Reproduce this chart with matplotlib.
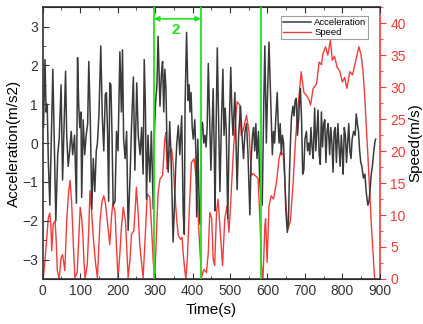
import matplotlib
matplotlib.use('Agg')
import matplotlib.pyplot as plt
from matplotlib.ticker import MultipleLocator

plt.rcParams['font.family'] = ['Liberation Sans', 'DejaVu Sans']

# acceleration (time s, m/s2)
acc_t = [2, 6, 9, 12, 15, 19, 23, 27, 31, 35, 40, 44, 49, 53, 57, 61, 64, 68, 72, 76,
         80, 85, 90, 93, 96, 99, 102, 104, 108, 112, 116, 120, 123, 127, 131, 135, 139, 143, 146, 150,
         155, 159, 163, 167, 170, 173, 176, 179, 182, 185, 188, 193, 197, 201, 206, 210, 213, 216, 220, 224,
         228, 233, 237, 242, 246, 251, 255, 260, 264, 268, 271, 274, 277, 281, 286, 290, 295, 297,
         301, 305, 308, 313, 317, 320, 323, 326, 329, 332, 335, 339, 342, 345, 348, 351, 355, 358, 362, 366,
         369, 371, 373, 375, 378, 380, 384, 388, 391, 393, 396, 399, 402, 406, 409, 411, 414, 418, 421,
         424, 427, 430, 433, 436, 439, 442, 445, 449, 452, 455, 458, 460, 463, 466, 469, 473, 477, 481, 484,
         487, 490, 494, 498, 502, 505, 508, 513, 516, 519, 523, 528, 532, 536, 540, 544, 548, 553, 556, 560,
         563, 566, 569, 572, 576, 579, 582,
         586, 590, 593, 597, 600, 604, 609, 613, 616, 619, 622, 626, 629, 631, 634, 637, 640, 643, 646, 649,
         653, 656, 659, 662, 664, 668, 671, 674, 677, 680, 683, 686, 688, 691, 694, 697, 700, 704, 707, 710,
         713, 716, 719, 722, 726, 729, 732, 735, 738, 741, 744, 747, 750, 753, 756, 759, 762, 766, 769, 772,
         775, 778, 781, 784, 788, 791, 794, 797, 800, 802, 805, 808, 811, 814, 817, 820, 823, 826, 830, 834,
         837, 840, 843, 846, 849, 852, 856, 860, 864, 868, 871, 874, 877, 880, 884, 887, 889]
acc_v = [0.4, 2.15, 0.8, 1.0, -0.5, -1.6, 0.2, 1.9, 0.0, -2.0, -0.3, 0.1, 1.5, -0.95, 0.4, 1.85, 0.2, -0.6, -0.2, 0.3,
         -0.3, 0.2, -1.55, 2.2, 1.0, 0.4, 0.8, -1.4, 0.6, -0.3, 0.2, 0.5, 2.1, 0.6, -1.7, -0.4, -1.25, -0.2, 0.0, 0.7,
         2.5, 0.7, -0.2, 1.25, 1.3, 0.3, -1.5, 1.55, 1.5, 0.2, -1.6, -1.5, 0.3, -0.2, 2.35, 0.8, 2.4, 0.1, -0.4, 0.3,
         -2.25, -0.9, 0.4, 1.7, -0.7, 1.55, 0.2, -0.3, 0.4, -0.8, 2.15, 1.0, -1.45, 0.2, -1.0, 0.3, -1.7, 0.0,
         1.0, 1.5, 2.75, 0.95, 1.8, 2.1, 0.8, 1.9, 1.4, -0.2, -0.75, 0.55, -0.2, -1.25, -2.55, -1.8, -0.6, 0.0, 0.45, -0.3,
         0.3, 0.7, -0.5, -1.8, -2.35, 0.95, 2.85, 1.1, 1.5, 0.8, 1.3, 0.4, 0.1, 0.6, -0.3, -1.9, 0.1, -1.75, -2.1,
         0.55, 0.5, 0.0, 0.2, -0.1, 0.4, 2.05, 0.9, -0.7, 0.4, 1.4, -0.3, -1.75, 0.5, 2.45, 0.8, -1.25, 0.5, 1.9, 0.2,
         0.9, 0.3, -1.95, 0.4, 1.95, 0.8, 0.2, 1.3, 0.1, -1.2, 0.2, 0.95, 0.2, -0.4, 0.3, 0.5, -0.3, -1.85, -0.5, 0.2,
         0.4, -0.2, 0.5, -0.4, 0.3, -0.9, -1.3,
         -1.6, 1.0, 2.5, 0.0, 1.2, 2.6, 0.95, -0.3, 0.3, 0.0, 0.6, 1.3, 0.4, 0.0, 0.5, -0.3, 0.2, 0.0, -0.8, -1.75,
         -2.3, -2.0, -0.7, 0.2, 0.65, 0.95, 0.7, 1.1, 1.15, 0.2, 0.6, 1.2, 1.4, 0.6, -0.8, -0.7, 0.1, 0.3, -0.2, 0.0,
         -0.3, 0.4, -0.1, -0.4, 0.9, -0.2, 0.3, 0.85, -0.3, -0.55, 0.8, -0.1, 0.5, 0.6, -0.5, 0.3, 0.5, -0.3, 0.4, 0.0,
         -0.75, 0.3, 0.4, -0.5, 0.5, -0.1, -0.6, 0.2, -0.3, -0.8, 0.4, 0.2, -0.5, 0.0, 0.5, -0.2, -0.4, 0.1, 0.3, 0.2,
         0.75, 0.5, 0.3, -0.2, -0.5, -0.6, -0.9, -0.8, -1.3, -1.6, -1.5, -1.2, -0.8, -0.6, -0.2, 0.05, 0.1]

# speed (time s, m/s)
spd_t = [1, 6, 11, 15, 19, 22, 24, 28, 33, 36, 39, 44, 49, 53, 56, 59, 64, 69, 73, 77,
         82, 86, 92, 96, 100, 104, 107, 110, 113, 119, 123, 126, 130, 135, 141, 146, 153, 158, 163, 167,
         172, 176, 179, 184, 187, 193, 197, 201, 206, 210, 215, 221, 225, 228, 233, 237, 243, 247, 250, 255,
         259, 264, 268, 274, 279, 286, 291, 295, 299, 303, 308, 313, 320, 326, 329, 332, 335, 338, 344, 348,
         352, 355, 358, 362, 368, 372, 375, 378, 382, 386, 391, 397, 404, 410, 414, 418, 424, 430, 437, 442,
         446, 451, 455, 459, 464, 468, 471, 475, 480, 486, 492, 497, 501, 504, 510, 515, 519, 526, 530, 536,
         544, 551, 557, 562, 566, 571, 575, 580, 584, 588, 593, 595, 599, 604, 610, 616, 624, 631, 635, 642,
         646, 650, 655, 661, 668, 675, 682, 690, 697, 704, 711, 715, 722, 731, 738, 744, 748, 755, 761, 768,
         773, 779, 786, 793, 800, 806, 812, 820, 827, 837, 844, 850, 855, 859, 868, 877, 886]
spd_v = [0, 2.8, 6.5, 9.6, 10.3, 8, 4.4, 8.6, 9.1, 6, 1.3, 0, 3.3, 3.8, 2.5, 1.3, 9.1, 13.5, 15.4, 12.2,
         5, 0.2, 1, 6, 11.2, 9.5, 7, 3, 0, 2.3, 8, 13.8, 11, 6.5, 2.5, 0.2, 9.1, 12, 13, 12,
         9.4, 7, 5.4, 10, 11.8, 10.5, 5, 0, 4, 8, 11.2, 9, 4, 0.2, 3, 7, 7.5, 11, 14.3, 10,
         5.4, 2.5, 0.2, 7, 13.3, 12.8, 7.5, 2.8, 0, 6, 13.5, 15.6, 16.2, 21.9, 22.9, 17.2, 18, 19.8, 20.3, 18.2,
         14, 11.4, 9, 6.8, 6.2, 6.5, 4, 2.1, 0, 3, 10.4, 18.2, 18.8, 15.6, 11, 6.2, 0.2, 1.5, 1, 4.1,
         10.4, 9.5, 3.1, 2.1, 10.4, 12.5, 10, 6.5, 2.1, 9.4, 11.4, 7.3, 11, 14.5, 20.9, 25, 27.7, 27.2, 22.4, 23.5,
         25.6, 22.9, 16.2, 16.5, 16.2, 16, 15.6, 9, 2.1, 0, 8.3, 9.4, 2.6, 11.4, 13, 12.5, 15.1, 18.8, 19.8, 19.5,
         15.6, 11, 7.8, 9, 14.6, 21.9, 27.2, 32.4, 29.2, 28.7, 28, 27.2, 29.8, 30.5, 33.9, 33.5, 35.2, 36.3, 35, 37.3,
         34.2, 34.8, 33.1, 32.5, 30.8, 31.5, 29.8, 32.4, 31.9, 34.5, 36.3, 35, 32.5, 29.2, 19.3, 8.8, 0]

# marked window boundaries (s)
marks = [297, 422, 582]
window_label = '2'

RED = '#f03c3c'
GREEN = '#22e022'

fig = plt.figure(figsize=(4.23, 3.24), dpi=100)
ax = fig.add_axes([0.101, 0.139, 0.797, 0.839])
ax2 = ax.twinx()

ax2.plot(spd_t, spd_v, color=RED, lw=1.0, label='Speed')
l1, = ax.plot(acc_t, acc_v, color='#3a3a3a', lw=1.1, label='Acceleration')
ax.set_zorder(ax2.get_zorder() + 1)
ax.patch.set_visible(False)

for m in marks:
    ax.axvline(m, color=GREEN, lw=1.3, zorder=5)
ax.annotate('', xy=(marks[0], 3.2), xytext=(marks[1], 3.2),
            arrowprops=dict(arrowstyle='<|-|>', color=GREEN, lw=1.2,
                            mutation_scale=7, shrinkA=0, shrinkB=0), zorder=6)
ax.text((marks[0] + marks[1]) / 2 - 5, 2.9, window_label, color=GREEN,
        fontsize=11, ha='center', va='center', fontweight='bold')

ax.set_xlim(0, 900)
ax.set_ylim(-3.5, 3.5)
ax2.set_ylim(0, 42.5)

ax.xaxis.set_major_locator(MultipleLocator(100))
ax.xaxis.set_minor_locator(MultipleLocator(50))
ax.yaxis.set_major_locator(MultipleLocator(1))
ax.yaxis.set_minor_locator(MultipleLocator(0.5))
ax2.yaxis.set_major_locator(MultipleLocator(5))
ax2.yaxis.set_minor_locator(MultipleLocator(2.5))

ax.tick_params(which='both', direction='in', top=True, labelsize=10, color='#333333', labelcolor='#333333')
ax.tick_params(which='major', length=4)
ax.tick_params(which='minor', length=2)
ax2.tick_params(which='both', direction='out', colors=RED, labelsize=10)
ax2.tick_params(which='major', length=4)
ax2.tick_params(which='minor', length=2)
ax2.spines['right'].set_color(RED)
ax2.spines['right'].set_linewidth(1.2)
for s in ['left', 'bottom', 'top']:
    ax.spines[s].set_color('#333333')
    ax.spines[s].set_linewidth(1.2)
ax2.spines['left'].set_visible(False)
ax.spines['right'].set_visible(False)

ax.set_xlabel('Time(s)', fontsize=11, labelpad=4)
ax.set_ylabel('Acceleration(m/s2)', fontsize=11, labelpad=1)
ax2.set_ylabel('Speed(m/s)', fontsize=11, labelpad=2)

h2, lab2 = ax2.get_legend_handles_labels()
leg = ax.legend([l1] + h2, ['Acceleration'] + lab2, loc='upper right',
                fontsize=6.8, frameon=True, fancybox=False, borderpad=0.2,
                handlelength=3.0, handletextpad=0.3, labelspacing=0.15,
                bbox_to_anchor=(0.98, 0.985))
leg.get_frame().set_edgecolor('#888888')
leg.get_frame().set_linewidth(0.8)

fig.savefig('out.png', dpi=100)
